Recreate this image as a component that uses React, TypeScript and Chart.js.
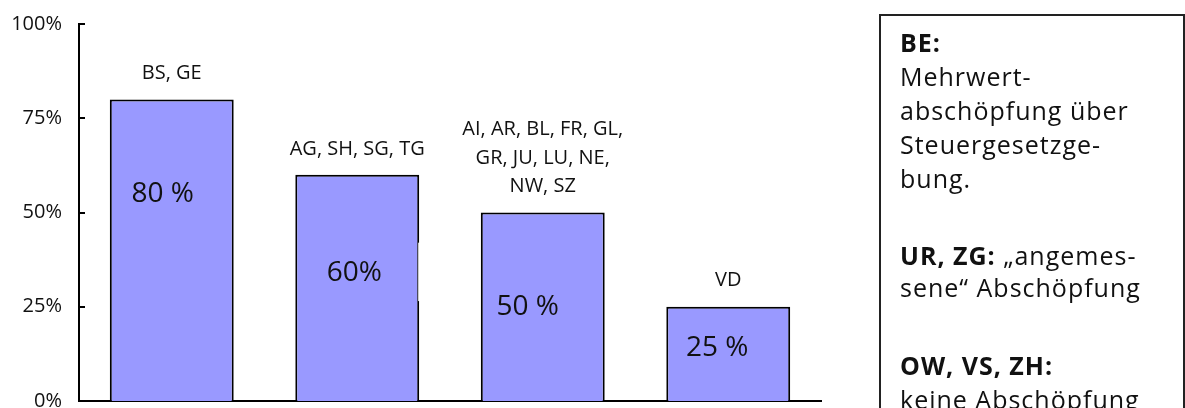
import React, { useEffect, useRef } from "react";
import { Chart, registerables } from "chart.js";

Chart.register(...registerables);

// ---- data ----
const categories = ["BS, GE", "AG, SH, SG, TG", "AI, AR, BL, FR, GL, GR, JU, LU, NE, NW, SZ", "VD"];
const values = [80, 60, 50, 25];
const valueLabels = ["80 %", "60%", "50 %", "25 %"];
const cantonLines = [
  ["BS, GE"],
  ["AG, SH, SG, TG"],
  ["AI, AR, BL, FR, GL,", "GR, JU, LU, NE,", "NW, SZ"],
  ["VD"],
];
const yTickValues = [0, 25, 50, 75, 100];

// ---- layout (not data) ----
const innerLabelLevel = [55, 34, 25, 14];
const innerLabelShift = [-9, -3, -15, -11];

const FONT = "'Open Sans', 'Noto Sans', sans-serif";

const labelPlugin = {
  id: "labelPlugin",
  afterDatasetsDraw(chart: any) {
    const ctx = chart.ctx;
    const meta = chart.getDatasetMeta(0);
    const yScale = chart.scales.y;
    const area = chart.chartArea;
    ctx.save();
    ctx.strokeStyle = "#000";
    ctx.lineWidth = 2;
    yTickValues.forEach((v) => {
      const y = Math.round(yScale.getPixelForValue(v));
      ctx.beginPath();
      ctx.moveTo(area.left, y);
      ctx.lineTo(area.left + 6, y);
      ctx.stroke();
    });
    // small gap in the right border of the second bar (as in the original)
    const b2 = meta.data[1];
    if (b2) {
      const yTop = yScale.getPixelForValue(42);
      const yBot = yScale.getPixelForValue(26.5);
      ctx.fillStyle = "#fff";
      ctx.fillRect(b2.x + b2.width / 2 - 1, yTop, 3, yBot - yTop);
    }
    ctx.fillStyle = "#111";
    ctx.textAlign = "center";
    ctx.textBaseline = "middle";
    meta.data.forEach((bar: any, i: number) => {
      ctx.font = `20px ${FONT}`;
      const lines = cantonLines[i];
      const n = lines.length;
      lines.forEach((t, j) => {
        ctx.fillText(t, bar.x, bar.y - 26 - (n - 1 - j) * 28.5);
      });
      ctx.font = `28px ${FONT}`;
      ctx.fillText(valueLabels[i], bar.x + innerLabelShift[i], yScale.getPixelForValue(innerLabelLevel[i]));
    });
    ctx.restore();
  },
};

function BarChart() {
  const ref = useRef<HTMLCanvasElement | null>(null);
  useEffect(() => {
    if (!ref.current) return;
    const chart = new Chart(ref.current, {
      type: "bar",
      data: {
        labels: categories,
        datasets: [
          {
            data: values,
            backgroundColor: "#9999FF",
            borderColor: "#000",
            borderWidth: 2,
            barPercentage: 0.668,
            categoryPercentage: 1,
          },
        ],
      },
      options: {
        animation: false,
        responsive: false,
        maintainAspectRatio: false,
        devicePixelRatio: 1,
        layout: { autoPadding: false, padding: { left: 0, top: 24, right: 364, bottom: 7 } },
        plugins: { legend: { display: false }, tooltip: { enabled: false }, title: { display: false } },
        scales: {
          x: {
            ticks: { display: false },
            grid: { display: false, drawTicks: false },
            border: { display: true, color: "#000", width: 2 },
            afterFit: (s: any) => {
              s.height = 0;
              s.paddingLeft = 0;
              s.paddingRight = 0;
            },
          },
          y: {
            min: 0,
            max: 100,
            afterBuildTicks: (s: any) => {
              s.ticks = yTickValues.map((v) => ({ value: v }));
            },
            ticks: {
              callback: (v: any) => v + "%",
              color: "#111",
              font: { family: FONT, size: 20 },
              padding: 17,
            },
            grid: { display: false, drawTicks: false },
            border: { display: true, color: "#000", width: 2 },
            afterFit: (s: any) => {
              s.width = 79;
              s.paddingTop = 0;
              s.paddingBottom = 0;
            },
          },
        },
      },
      plugins: [labelPlugin],
    } as any);
    return () => chart.destroy();
  }, []);
  return (
    <canvas
      ref={ref}
      width={1185}
      height={408}
      style={{ position: "absolute", left: 0, top: 0, width: 1185, height: 408 }}
    />
  );
}

export default function App() {
  const p: React.CSSProperties = { margin: 0, whiteSpace: "nowrap" };
  return (
    <div
      style={{
        position: "fixed",
        left: 0,
        top: 0,
        width: 1185,
        height: 408,
        overflow: "hidden",
        background: "#fff",
      }}
    >
      <BarChart />
      <div
        style={{
          position: "absolute",
          left: 879,
          top: 14,
          width: 306,
          height: 500,
          boxSizing: "border-box",
          border: "2px solid #222",
          padding: "9px 0 0 19px",
          fontFamily: FONT,
          fontSize: 25,
          letterSpacing: "1px",
          lineHeight: "34px",
          color: "#111",
        }}
      >
        <p style={p}>
          <b>BE:</b>
          <br />
          Mehrwert-
          <br />
          abschöpfung über
          <br />
          Steuergesetzge-
          <br />
          bung.
        </p>
        <p style={{ ...p, marginTop: 44, lineHeight: "32px" }}>
          <b>UR, ZG:</b> „angemes-
          <br />
          sene“ Abschöpfung
        </p>
        <p style={{ ...p, marginTop: 45 }}>
          <b>OW, VS, ZH:</b>
          <br />
          keine Abschöpfung
        </p>
      </div>
    </div>
  );
}
